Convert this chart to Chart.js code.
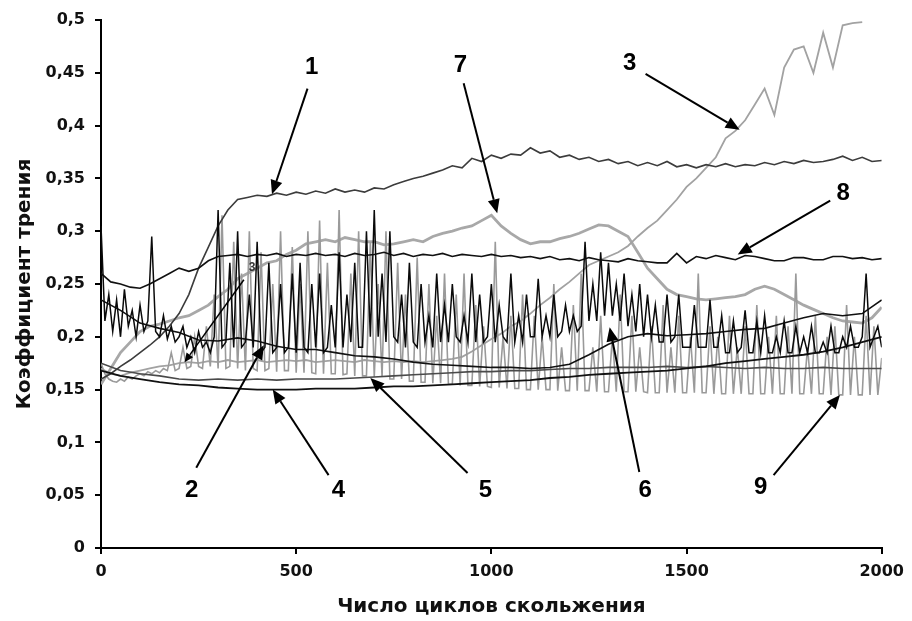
<!DOCTYPE html>
<html>
<head>
<meta charset="utf-8">
<script src="https://cdn.jsdelivr.net/npm/chart.js@4.4.1/dist/chart.umd.min.js"></script>
<style>
  body { margin: 0; background: #fff; }
  #wrap { width: 912px; height: 621px; }
</style>
</head>
<body>
<div id="wrap"><canvas id="canvas"></canvas></div>
<script>
// tick labels
var xTickLabels = ['0', '500', '1000', '1500', '2000'];
var yTickLabels = ['0', '0,05', '0,1', '0,15', '0,2', '0,25', '0,3', '0,35', '0,4', '0,45', '0,5'];

// series, sampled every 25 cycles
var curve1 = [
  0.16, 0.165, 0.172, 0.178, 0.185, 0.192, 0.2, 0.21, 0.222, 0.24,
  0.265, 0.285, 0.305, 0.32, 0.33, 0.332, 0.334, 0.333, 0.336, 0.334,
  0.337, 0.335, 0.338, 0.336, 0.34, 0.337, 0.339, 0.337, 0.341, 0.34,
  0.344, 0.347, 0.35, 0.352, 0.355, 0.358, 0.362, 0.36, 0.369, 0.366,
  0.372, 0.369, 0.373, 0.372, 0.379, 0.374, 0.376, 0.37, 0.372, 0.368,
  0.37, 0.366, 0.368, 0.364, 0.366, 0.362, 0.365, 0.362, 0.366, 0.361,
  0.363, 0.36, 0.363, 0.361, 0.364, 0.361, 0.363, 0.362, 0.365, 0.363,
  0.366, 0.364, 0.367, 0.365, 0.366, 0.368, 0.371, 0.367, 0.37, 0.366,
  0.367
];
var curve3 = [
  0.17, 0.165, 0.163, 0.166, 0.168, 0.17, 0.172, 0.173, 0.175, 0.176,
  0.175, 0.177, 0.176, 0.178, 0.176, 0.177, 0.178, 0.176, 0.177, 0.178,
  0.177, 0.178, 0.176, 0.177, 0.178, 0.177, 0.176, 0.178, 0.177, 0.176,
  0.177, 0.176, 0.177, 0.176, 0.177, 0.178, 0.179, 0.181, 0.186, 0.192,
  0.198, 0.203, 0.21, 0.215, 0.222, 0.23, 0.237, 0.245, 0.252, 0.26,
  0.268, 0.272, 0.276, 0.28, 0.286, 0.295, 0.303, 0.31, 0.32, 0.33,
  0.342, 0.35, 0.36, 0.37, 0.388, 0.395, 0.405, 0.42, 0.435, 0.41,
  0.455, 0.472, 0.475, 0.45, 0.488, 0.455, 0.495, 0.497, 0.498, null,
  null
];
var curve7 = [
  0.155, 0.17, 0.185, 0.195, 0.205, 0.21, 0.212, 0.215, 0.218, 0.22,
  0.225, 0.23, 0.238, 0.245, 0.255, 0.26, 0.265, 0.27, 0.272, 0.278,
  0.282, 0.288, 0.29, 0.292, 0.29, 0.294, 0.292, 0.29, 0.29, 0.287,
  0.288, 0.29, 0.292, 0.29, 0.295, 0.298, 0.3, 0.303, 0.305, 0.31,
  0.315, 0.305, 0.298, 0.292, 0.288, 0.29, 0.29, 0.293, 0.295, 0.298,
  0.302, 0.306, 0.305, 0.3, 0.295, 0.28, 0.265, 0.255, 0.245, 0.24,
  0.238, 0.236, 0.235, 0.236, 0.237, 0.238, 0.24, 0.245, 0.248, 0.245,
  0.24, 0.235, 0.23, 0.226, 0.222, 0.218, 0.215, 0.214, 0.213, 0.218,
  0.228
];
var curve8 = [
  0.26, 0.252, 0.25, 0.247, 0.246, 0.25, 0.255, 0.26, 0.265, 0.262,
  0.265, 0.272, 0.276, 0.277, 0.278, 0.276, 0.278, 0.277, 0.279, 0.276,
  0.278, 0.277, 0.279, 0.277, 0.278, 0.276, 0.279, 0.277, 0.278, 0.28,
  0.277, 0.279, 0.276, 0.278, 0.277, 0.279, 0.276, 0.278, 0.277, 0.276,
  0.278, 0.276, 0.277, 0.275, 0.276, 0.274, 0.276, 0.273, 0.274, 0.272,
  0.275, 0.273, 0.272, 0.271, 0.274, 0.272, 0.271, 0.27, 0.27, 0.279,
  0.27, 0.276, 0.274, 0.277, 0.275, 0.273, 0.277, 0.276, 0.274, 0.272,
  0.272, 0.275, 0.275, 0.273, 0.273, 0.276, 0.276, 0.274, 0.275, 0.273,
  0.274
];

// series, sampled every 50 cycles
var curve2 = [
  0.235, 0.225, 0.213, 0.208, 0.204, 0.197, 0.196, 0.199, 0.196, 0.191,
  0.188, 0.188, 0.185, 0.182, 0.181, 0.179, 0.176, 0.174, 0.173, 0.172,
  0.171, 0.171, 0.17, 0.171, 0.174, 0.183, 0.193, 0.2, 0.203, 0.201,
  0.202, 0.203, 0.205, 0.207, 0.208, 0.213, 0.218, 0.222, 0.22, 0.222,
  0.235
];
var curve4 = [
  0.168, 0.163, 0.16, 0.157, 0.155, 0.154, 0.152, 0.151, 0.15, 0.15,
  0.15, 0.151, 0.151, 0.151, 0.152, 0.153, 0.153, 0.154, 0.155, 0.156,
  0.157, 0.158, 0.159, 0.161, 0.162, 0.164, 0.165, 0.166, 0.167, 0.168,
  0.17, 0.172, 0.175, 0.177, 0.179, 0.181, 0.183, 0.186, 0.19, 0.195,
  0.2
];
var curve5 = [
  0.175, 0.168, 0.165, 0.163, 0.16, 0.159, 0.16, 0.159, 0.16, 0.159,
  0.16, 0.16, 0.16, 0.161, 0.162, 0.163, 0.164, 0.165, 0.166, 0.167,
  0.167, 0.168, 0.168, 0.169, 0.17, 0.17, 0.171, 0.171, 0.171, 0.172,
  0.171, 0.172, 0.171, 0.17, 0.171, 0.17, 0.17, 0.171, 0.17, 0.17,
  0.17
];

// spiky series, sampled every 10 cycles
var curve6 = [
  0.305, 0.215, 0.24, 0.205, 0.235, 0.2, 0.245, 0.21, 0.225, 0.2,
  0.23, 0.205, 0.215, 0.295, 0.205, 0.2, 0.22, 0.198, 0.21, 0.195,
  0.2, 0.21, 0.19, 0.2, 0.185, 0.205, 0.19, 0.195, 0.185, 0.2,
  0.32, 0.19, 0.195, 0.27, 0.19, 0.3, 0.19, 0.195, 0.24, 0.19,
  0.29, 0.185, 0.19, 0.27, 0.185, 0.19, 0.25, 0.185, 0.19, 0.26,
  0.185, 0.27, 0.19, 0.185, 0.25, 0.19, 0.26, 0.185, 0.19, 0.23,
  0.19, 0.28, 0.19, 0.24, 0.195, 0.27, 0.19, 0.19, 0.3, 0.2,
  0.32, 0.2, 0.26, 0.195, 0.3, 0.2, 0.195, 0.24, 0.19, 0.27,
  0.195, 0.19, 0.25, 0.195, 0.22, 0.19, 0.26, 0.195, 0.23, 0.195,
  0.25, 0.2, 0.195, 0.22, 0.195, 0.26, 0.195, 0.24, 0.195, 0.2,
  0.25, 0.195, 0.23, 0.2, 0.195, 0.26, 0.195, 0.22, 0.195, 0.24,
  0.2, 0.2, 0.255, 0.2, 0.22, 0.2, 0.24, 0.2, 0.205, 0.23,
  0.205, 0.22, 0.205, 0.21, 0.29, 0.215, 0.25, 0.215, 0.28, 0.22,
  0.27, 0.22, 0.25, 0.215, 0.26, 0.21, 0.24, 0.205, 0.25, 0.2,
  0.24, 0.2, 0.23, 0.195, 0.195, 0.24, 0.195, 0.2, 0.24, 0.19,
  0.19, 0.19, 0.23, 0.19, 0.19, 0.19, 0.235, 0.19, 0.19, 0.22,
  0.185, 0.185, 0.215, 0.185, 0.19, 0.225, 0.185, 0.185, 0.215, 0.185,
  0.22, 0.185, 0.185, 0.2, 0.185, 0.215, 0.185, 0.185, 0.21, 0.185,
  0.2, 0.185, 0.21, 0.185, 0.185, 0.195, 0.185, 0.21, 0.185, 0.185,
  0.2, 0.19, 0.21, 0.19, 0.19, 0.2, 0.26, 0.19, 0.2, 0.21,
  0.19
];
var curve9 = [
  0.175, 0.165, 0.16, 0.158, 0.157, 0.16, 0.158, 0.162, 0.16, 0.163,
  0.165, 0.163, 0.167, 0.165, 0.168, 0.166, 0.17, 0.168, 0.185, 0.168,
  0.17, 0.19, 0.17, 0.172, 0.2, 0.172, 0.17, 0.21, 0.172, 0.24,
  0.17, 0.315, 0.17, 0.172, 0.29, 0.17, 0.26, 0.168, 0.3, 0.17,
  0.168, 0.28, 0.168, 0.17, 0.25, 0.167, 0.3, 0.168, 0.168, 0.285,
  0.166, 0.25, 0.166, 0.3, 0.166, 0.165, 0.31, 0.165, 0.27, 0.165,
  0.165, 0.32, 0.164, 0.165, 0.26, 0.163, 0.3, 0.163, 0.163, 0.29,
  0.162, 0.25, 0.162, 0.3, 0.16, 0.16, 0.27, 0.16, 0.24, 0.158,
  0.158, 0.275, 0.157, 0.157, 0.25, 0.156, 0.22, 0.156, 0.26, 0.155,
  0.155, 0.24, 0.154, 0.26, 0.154, 0.154, 0.23, 0.153, 0.21, 0.153,
  0.152, 0.29, 0.152, 0.2, 0.151, 0.22, 0.151, 0.151, 0.24, 0.15,
  0.15, 0.22, 0.15, 0.2, 0.15, 0.15, 0.25, 0.149, 0.19, 0.149,
  0.149, 0.23, 0.149, 0.26, 0.149, 0.149, 0.19, 0.148, 0.22, 0.148,
  0.148, 0.2, 0.148, 0.24, 0.148, 0.148, 0.22, 0.148, 0.19, 0.148,
  0.147, 0.21, 0.147, 0.147, 0.23, 0.147, 0.19, 0.147, 0.22, 0.147,
  0.147, 0.2, 0.147, 0.26, 0.147, 0.147, 0.21, 0.146, 0.2, 0.146,
  0.146, 0.22, 0.146, 0.19, 0.146, 0.21, 0.146, 0.146, 0.23, 0.146,
  0.146, 0.2, 0.146, 0.22, 0.146, 0.146, 0.21, 0.146, 0.26, 0.146,
  0.146, 0.19, 0.146, 0.22, 0.146, 0.146, 0.2, 0.145, 0.21, 0.145,
  0.145, 0.23, 0.145, 0.2, 0.145, 0.145, 0.22, 0.145, 0.21, 0.145,
  0.18
];

// curve numbers with arrows (data coords): label, arrow start, arrow tip
var marks = [
  { t: '1', x: 540, y: 0.455, fx: 529, fy: 0.435, tx: 438, ty: 0.335 },
  { t: '7', x: 921, y: 0.457, fx: 929, fy: 0.44, tx: 1015, ty: 0.317 },
  { t: '3', x: 1354, y: 0.459, fx: 1395, fy: 0.449, tx: 1636, ty: 0.396 },
  { t: '8', x: 1901, y: 0.336, fx: 1868, fy: 0.329, tx: 1631, ty: 0.278 },
  { t: '2', x: 232, y: 0.055, fx: 244, fy: 0.076, tx: 417, ty: 0.192 },
  { t: '4', x: 608, y: 0.055, fx: 583, fy: 0.069, tx: 440, ty: 0.15 },
  { t: '5', x: 985, y: 0.055, fx: 939, fy: 0.071, tx: 690, ty: 0.161 },
  { t: '6', x: 1394, y: 0.055, fx: 1379, fy: 0.072, tx: 1303, ty: 0.209 },
  { t: '9', x: 1690, y: 0.057, fx: 1723, fy: 0.069, tx: 1893, ty: 0.145 },
  { t: '3', x: 387, y: 0.265, fx: 366, fy: 0.254, tx: 214, ty: 0.176, small: true }
];

function toPoints(step, values) {
  return values.map(function (v, i) {
    return { x: i * step, y: v };
  });
}

function line(label, step, values, color, width, order) {
  return {
    label: label,
    data: toPoints(step, values),
    borderColor: color,
    backgroundColor: 'transparent',
    borderWidth: width,
    pointRadius: 0,
    tension: 0,
    spanGaps: false,
    order: order
  };
}

var arrowPlugin = {
  id: 'arrows',
  afterDatasetsDraw: function (chart) {
    var ctx = chart.ctx;
    var sx = chart.scales.x, sy = chart.scales.y;
    ctx.save();
    marks.forEach(function (m) {
      var x1 = sx.getPixelForValue(m.fx), y1 = sy.getPixelForValue(m.fy);
      var x2 = sx.getPixelForValue(m.tx), y2 = sy.getPixelForValue(m.ty);
      var a = Math.atan2(y2 - y1, x2 - x1);
      var len = m.small ? 9 : 14, half = m.small ? 4 : 6;
      ctx.strokeStyle = '#000';
      ctx.fillStyle = '#000';
      ctx.lineWidth = m.small ? 1.5 : 2;
      ctx.beginPath();
      ctx.moveTo(x1, y1);
      ctx.lineTo(x2 - Math.cos(a) * len, y2 - Math.sin(a) * len);
      ctx.stroke();
      ctx.beginPath();
      ctx.moveTo(x2, y2);
      ctx.lineTo(x2 - Math.cos(a) * len - Math.sin(a) * half, y2 - Math.sin(a) * len + Math.cos(a) * half);
      ctx.lineTo(x2 - Math.cos(a) * len + Math.sin(a) * half, y2 - Math.sin(a) * len - Math.cos(a) * half);
      ctx.closePath();
      ctx.fill();
      ctx.font = m.small ? 'bold 12px "Liberation Sans"' : 'bold 24px "Liberation Sans"';
      ctx.fillStyle = m.small ? '#333' : '#000';
      ctx.textAlign = 'center';
      ctx.textBaseline = 'middle';
      ctx.fillText(m.t, sx.getPixelForValue(m.x), sy.getPixelForValue(m.y));
    });
    ctx.restore();
  }
};

var tickFont = { family: '"DejaVu Sans"', size: 16, weight: 'bold' };
var titleFont = { family: '"DejaVu Sans"', size: 20, weight: 'bold' };

const ctx = document.getElementById('canvas');
const myChart = new Chart(ctx, {
  type: 'line',
  data: {
    datasets: [
      line('1', 25, curve1, '#3c3c3c', 1.6, 3),
      line('2', 50, curve2, '#111111', 1.6, 2),
      line('3', 25, curve3, '#a2a2a2', 1.8, 6),
      line('4', 50, curve4, '#111111', 1.8, 2),
      line('5', 50, curve5, '#4a4a4a', 1.6, 3),
      line('6', 10, curve6, '#0a0a0a', 1.5, 1),
      line('7', 25, curve7, '#a8a8a8', 2.8, 7),
      line('8', 25, curve8, '#111111', 1.6, 2),
      line('9', 10, curve9, '#9a9a9a', 1.6, 5)
    ]
  },
  options: {
    responsive: true,
    maintainAspectRatio: false,
    animation: false,
    devicePixelRatio: 1,
    layout: { padding: { left: 0, right: 25, top: 20, bottom: 0 } },
    plugins: {
      legend: { display: false },
      tooltip: { enabled: false }
    },
    scales: {
      x: {
        type: 'linear',
        min: 0,
        max: 2000,
        afterFit: function (scale) { scale.height = 73; },
        grid: { display: true, drawOnChartArea: false, drawTicks: true, tickLength: 6, color: '#000', lineWidth: 2 },
        border: { display: true, color: '#000', width: 2 },
        ticks: {
          stepSize: 500,
          padding: 8,
          color: '#111',
          font: tickFont,
          maxRotation: 0,
          callback: function (v, i) { return xTickLabels[i]; }
        },
        title: { display: true, text: 'Число циклов скольжения', color: '#111', font: titleFont, padding: { top: 0, bottom: 2 } }
      },
      y: {
        min: 0,
        max: 0.5,
        afterFit: function (scale) { scale.width = 101; },
        grid: { display: true, drawOnChartArea: false, drawTicks: true, tickLength: 6, color: '#000', lineWidth: 2 },
        border: { display: true, color: '#000', width: 2 },
        ticks: {
          stepSize: 0.05,
          padding: 10,
          color: '#111',
          font: tickFont,
          callback: function (v, i) { return yTickLabels[i]; }
        },
        title: { display: true, text: 'Коэффициент трения', color: '#111', font: titleFont, padding: { top: 13, bottom: 0 } }
      }
    }
  },
  plugins: [arrowPlugin]
});
</script>
</body>
</html>
